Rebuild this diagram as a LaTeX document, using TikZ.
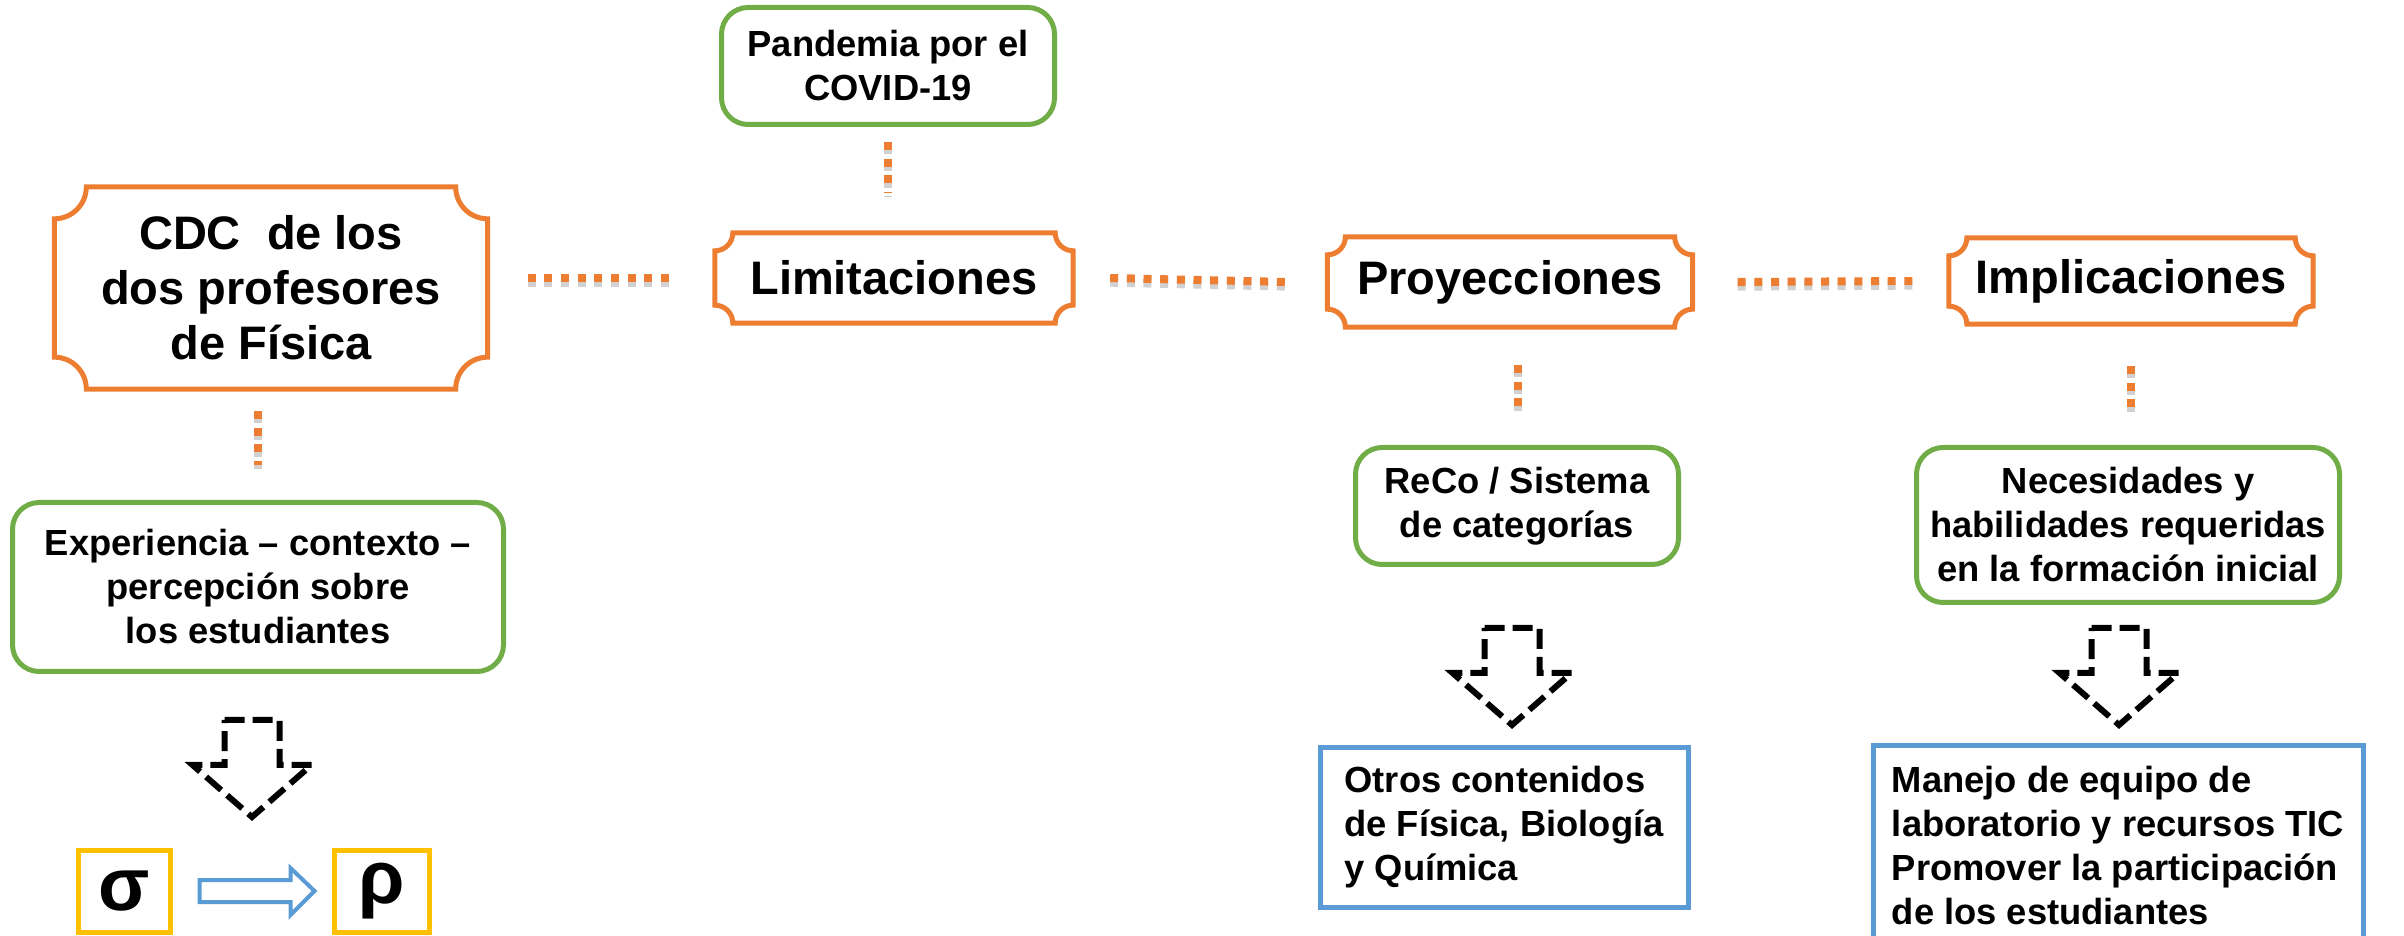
\documentclass[tikz,border=0pt]{standalone}
\usepackage{fontspec}
\setmainfont{Liberation Sans}
\usetikzlibrary{calc, positioning}

\definecolor{naranja}{HTML}{ED7D31}
\definecolor{verde}{HTML}{70AD47}
\definecolor{azul}{HTML}{5B9BD5}
\definecolor{oro}{HTML}{FFC000}

% marco naranja con esquinas concavas: nombre del nodo, radio (pt)
\newcommand{\placa}[2]{%
  \draw[naranja, line width=1.5pt, line join=miter]
    ($(#1.north west)+(#2pt,0pt)$) -- ($(#1.north east)+(-#2pt,0pt)$)
    arc[start angle=180, end angle=270, radius=#2pt]
    -- ($(#1.south east)+(0pt,#2pt)$)
    arc[start angle=90, end angle=180, radius=#2pt]
    -- ($(#1.south west)+(#2pt,0pt)$)
    arc[start angle=0, end angle=90, radius=#2pt]
    -- ($(#1.north west)+(0pt,-#2pt)$)
    arc[start angle=270, end angle=360, radius=#2pt] -- cycle;}

\begin{document}
\begin{tikzpicture}[
  x=0.3pt, y=-0.3pt,
  titulo/.style={font=\bfseries\fontsize{14.1}{16.5}\selectfont, align=center, inner sep=0pt},
  idea/.style={draw=verde, line width=1.5pt, rounded corners=8pt, align=center, inner sep=0pt,
    font=\bfseries\fontsize{10.9}{13.2}\selectfont},
  resultado/.style={draw=azul, line width=1.5pt, align=left, inner sep=0pt,
    font=\bfseries\fontsize{10.9}{13.2}\selectfont},
  simbolo/.style={draw=oro, line width=1.5pt, inner sep=0pt, minimum height=24.6pt,
    font=\bfseries\fontsize{22.5}{24}\selectfont},
  puntos/.style={naranja, line width=2.4pt, dash pattern=on 2.4pt off 2.6pt,
    preaction={draw=black, opacity=0.18, line width=2.6pt, dash pattern=on 2.4pt off 2.6pt,
      transform canvas={yshift=-1.3pt}}},
  bajada/.pic={\draw[black, line width=1.8pt, dash pattern=on 6pt off 2.4pt, fill=white, line join=miter]
    (-27.5,0) -- (27.5,0) -- (27.5,45) -- (59.5,45) -- (0,97) -- (-59.5,45) -- (-27.5,45) -- cycle;}
]
\useasboundingbox (0,0) rectangle (2404,936);
\clip (0,0) rectangle (2404,936);

% nodos principales
\node[titulo, minimum width=129.6pt, minimum height=60.3pt] (cdc) at (271,288) {CDC\ \ de los\\dos profesores\\de Física};
\node[titulo, minimum width=107.1pt, minimum height=26.7pt] (lim) at (894,278) {Limitaciones};
\node[titulo, minimum width=109.2pt, minimum height=26.7pt] (proy) at (1510,282) {Proyecciones};
\node[titulo, minimum width=108.9pt, minimum height=25.5pt] (impl) at (2131,281) {Implicaciones};
\placa{cdc}{9.6}
\placa{lim}{5.4}
\placa{proy}{5.4}
\placa{impl}{5.4}

% recuadros verdes
\node[idea, minimum width=99.9pt, minimum height=35.1pt] (pand) at (888,66) {Pandemia por el\\COVID-19};
\node[idea, minimum width=147.3pt, minimum height=50.7pt] (exp) at (258,587) {Experiencia -- contexto --\\percepción sobre\\los estudiantes};
\node[idea, minimum width=96.9pt, minimum height=35.1pt] (reco) at (1517,506) {ReCo / Sistema\\de categorías};
\node[idea, minimum width=126.9pt, minimum height=46.5pt] (nec) at (2128,525) {Necesidades y\\habilidades requeridas\\en la formación inicial};

% recuadros azules
\node[resultado, minimum width=110.4pt, minimum height=48pt] (otros) at (1504,827) {Otros contenidos\\de Física, Biología\\y Química};
\node[resultado, minimum width=147pt, minimum height=60.6pt] (manejo) at (2118,846) {Manejo de equipo de\\laboratorio y recursos TIC\\Promover la participación\\de los estudiantes};

% sigma y rho
\node[simbolo, minimum width=27.6pt] (sig) at (124,891) {σ};
\node[simbolo, minimum width=28.5pt] (rho) at (382,891) {ρ};

% lineas punteadas
\draw[puntos] ($(cdc.east |- lim)+(40,0)$) -- ($(lim.west)+(-40,0)$);
\draw[puntos] ($(lim.east)+(37,0)$) -- ($(proy.west)+(-40,0)$);
\draw[puntos] ($(proy.east)+(45,0)$) -- ($(impl.west)+(-30,0)$);
\draw[puntos] ($(pand.south)+(0,15)$) -- ($(pand.south |- lim.north)+(0,-40)$);
\draw[puntos] ($(cdc.south)+(-13,22)$) -- ($(cdc.south |- exp.north)+(-13,-35)$);
\draw[puntos] ($(proy.south)+(8,38)$) -- ($(proy.south |- reco.north)+(8,-31)$);
\draw[puntos] ($(impl.south)+(0,42)$) -- ($(impl.south |- nec.north)+(0,-31)$);

% flechas de bloque
\pic (bajA) at (252,720) {bajada};
\pic (bajB) at (1512,628) {bajada};
\pic (bajC) at (2119,628) {bajada};

% sigma -> rho
\draw[azul, line width=1.2pt, fill=white, line join=miter]
  ($(sig.east)+(27,-11)$) -- ++(91,0) -- ++(0,-12) -- ++(24,23) -- ++(-24,24) -- ++(0,-13) -- ++(-91,0) -- cycle;

\end{tikzpicture}
\end{document}
